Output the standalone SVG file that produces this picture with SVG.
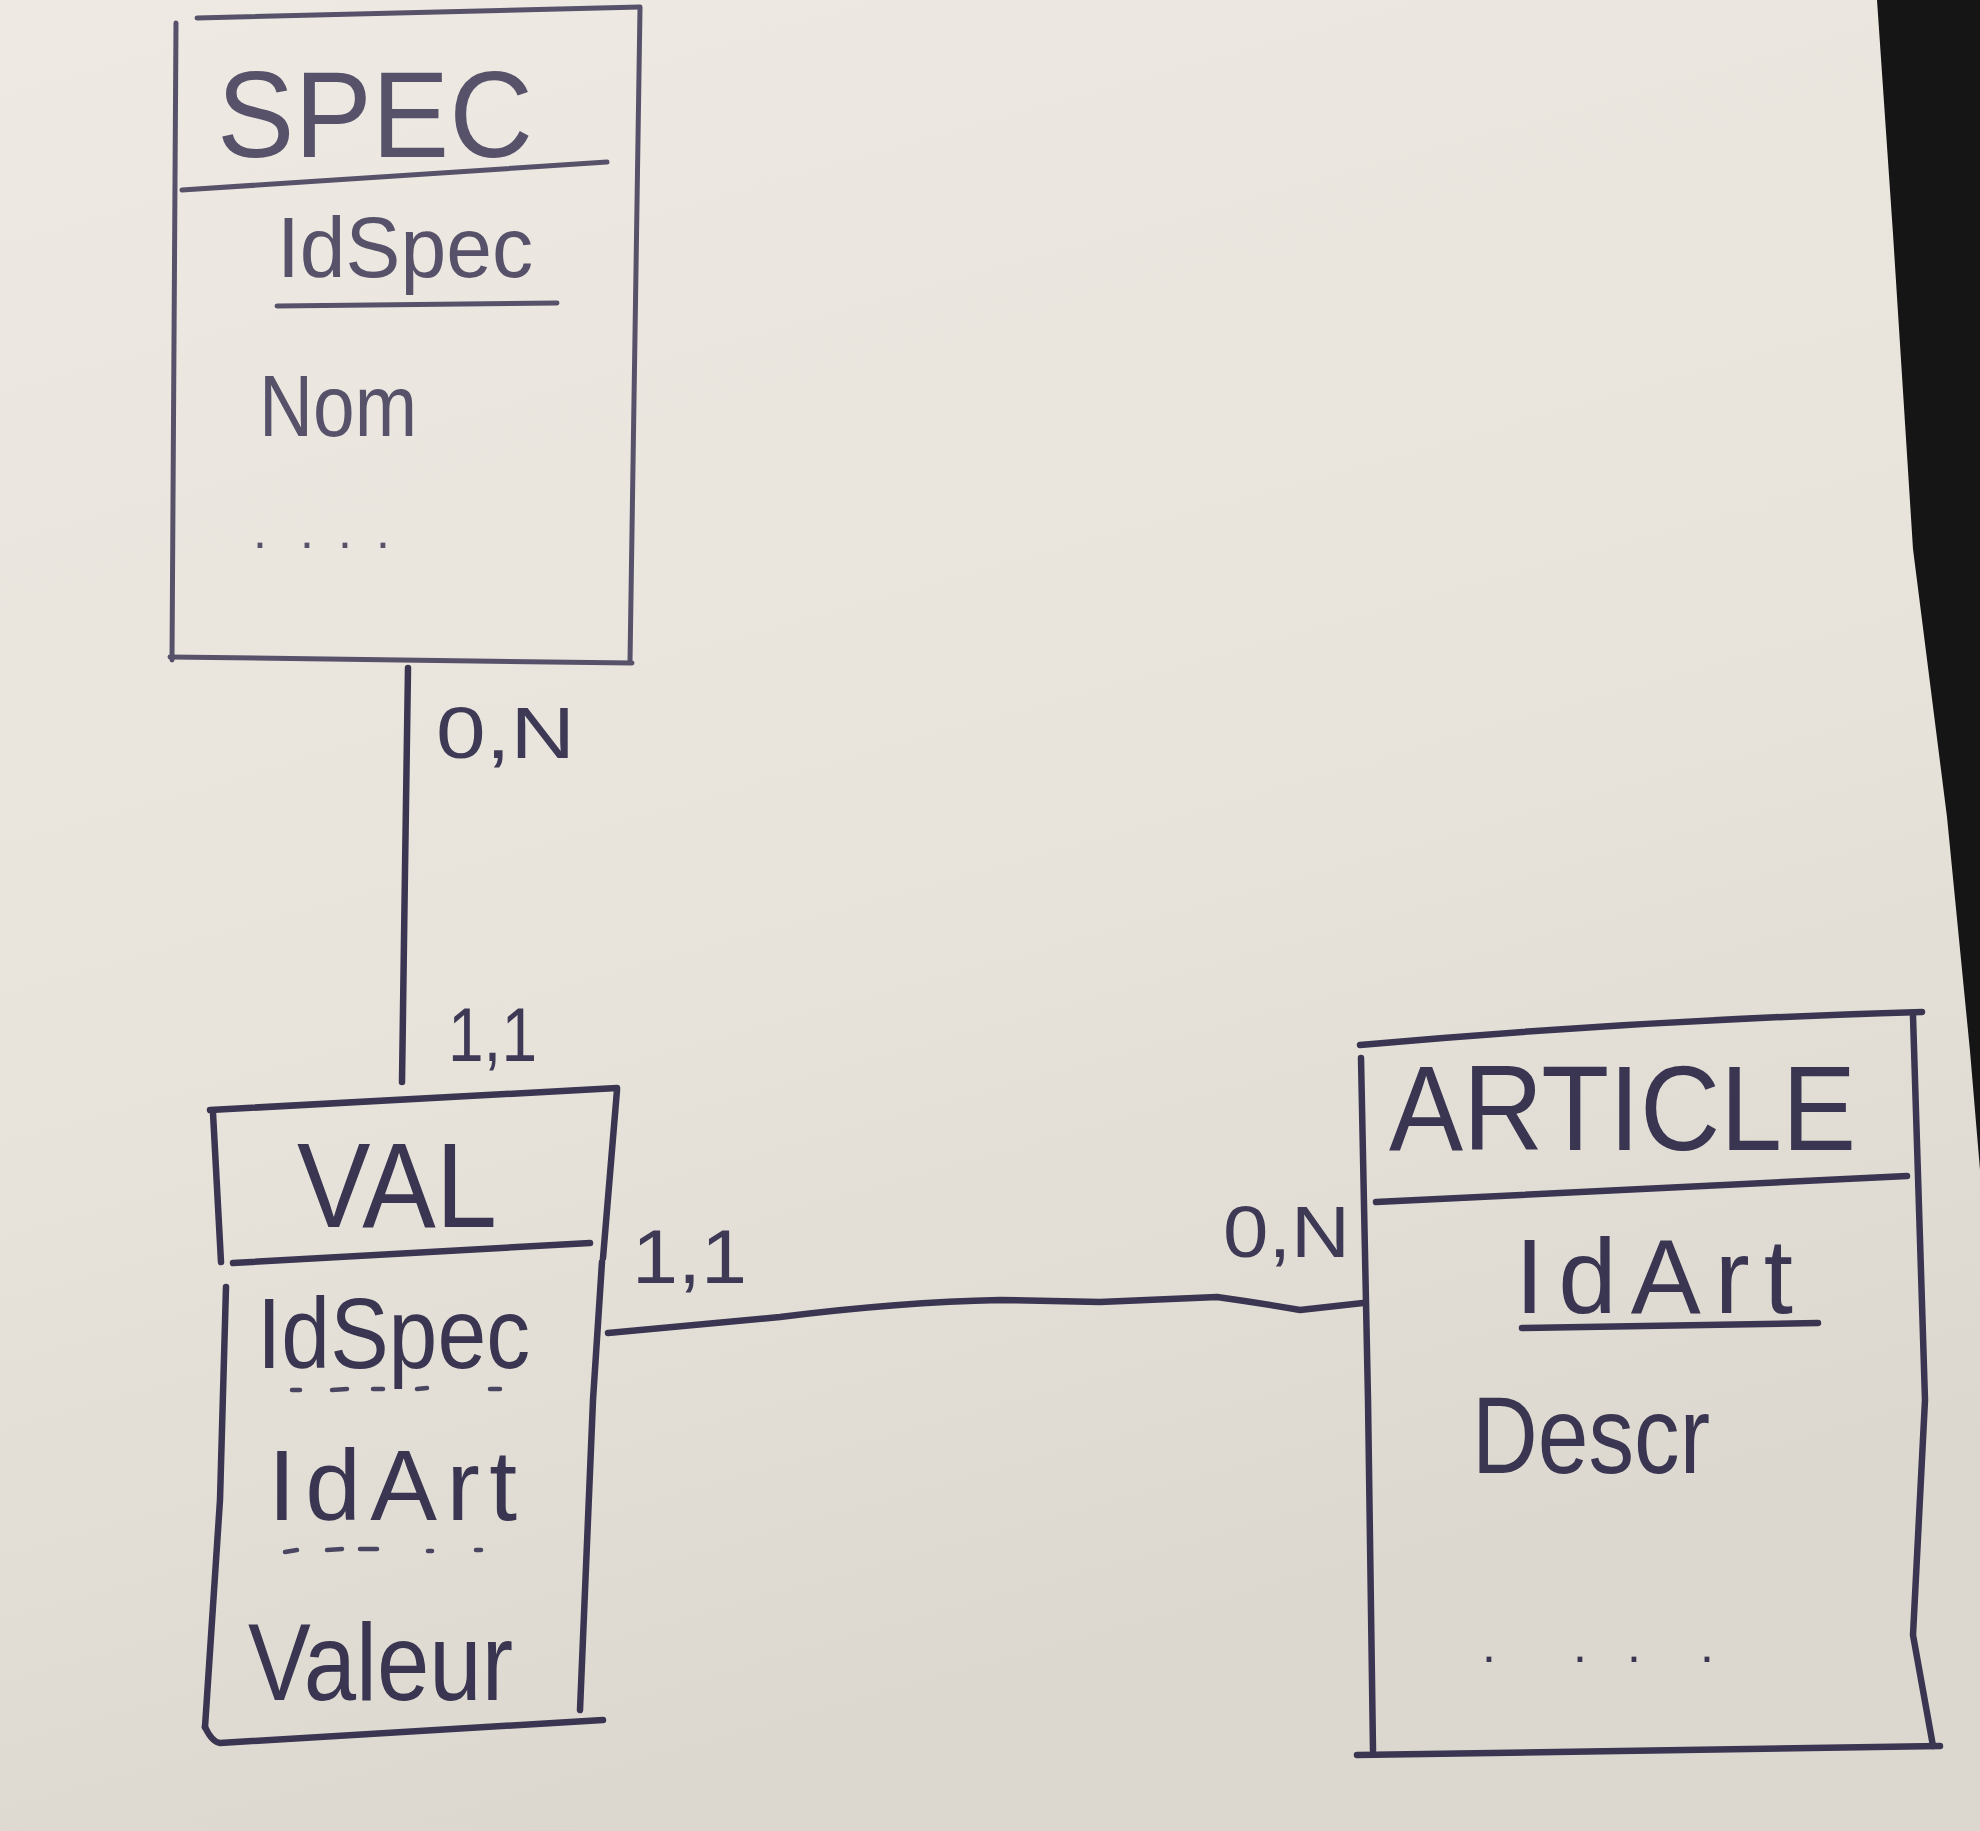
<svg xmlns="http://www.w3.org/2000/svg" width="1980" height="1831" viewBox="0 0 1980 1831">
<defs>
<linearGradient id="paper" x1="0" y1="0" x2="0.3" y2="1">
<stop offset="0" stop-color="#eeeae3"/>
<stop offset="0.6" stop-color="#e7e3db"/>
<stop offset="1" stop-color="#dcd8d0"/>
</linearGradient>
<style>
.ink{fill:none;stroke:#3a3550;stroke-width:6.5;stroke-linecap:round;stroke-linejoin:round}
.thin{stroke:#57526a;stroke-width:5}
.dash{fill:none;stroke:#4a4560;stroke-width:4.5;stroke-linecap:round}
.t{font-family:"Liberation Sans",Arial,sans-serif;fill:#3a3550}
.ts{fill:#57526a}
.lbl{font-family:"Liberation Sans",Arial,sans-serif;fill:#3e3954}
</style>
</defs>
<rect x="0" y="0" width="1980" height="1831" fill="url(#paper)"/>
<path d="M1877 0 L1893 234 L1913 549 L1947 817 L1970 1051 L1980 1170 L1980 0 Z" fill="#151515"/>

<g id="spec">
<path class="ink thin" d="M197 18 L640 7"/>
<path class="ink thin" d="M176 23 L172 660"/>
<path class="ink thin" d="M640 8 L630 662"/>
<path class="ink thin" d="M170 657 L632 663"/>
<path class="ink thin" d="M182 190 L607 162"/>
<text class="t ts" x="217" y="157" font-size="122" textLength="316" lengthAdjust="spacingAndGlyphs">SPEC</text>
<text class="t ts" x="277" y="277" font-size="86" textLength="256" lengthAdjust="spacingAndGlyphs">IdSpec</text>
<path class="ink thin" d="M277 306 L557 303"/>
<text class="t ts" x="259" y="436" font-size="88" textLength="158" lengthAdjust="spacingAndGlyphs">Nom</text>
<text class="t ts" x="253 300 338 376" y="548" font-size="50">....</text>
</g>

<g id="val">
<path class="ink" d="M210 1110 L617 1088"/>
<path class="ink" d="M213 1113 L221 1262 M226 1287 L220 1500 L205 1727"/>
<path class="ink" d="M617 1090 L603 1258 M602 1262 L593 1400 L580 1710"/>
<path class="ink" d="M205 1727 Q212 1742 220 1743 L603 1720"/>
<path class="ink" d="M233 1263 L590 1243"/>
<text class="t" x="297" y="1227" font-size="120" textLength="200" lengthAdjust="spacingAndGlyphs">VAL</text>
<text class="t" x="257" y="1368" font-size="100" textLength="273" lengthAdjust="spacingAndGlyphs">IdSpec</text>
<path class="dash" d="M292 1390 L300 1390 M332 1390 L347 1389 M373 1389 L383 1389 M417 1389 L427 1388 M490 1389 L500 1389"/>
<text class="t" x="268" y="1520" font-size="100" textLength="249" lengthAdjust="spacing">IdArt</text>
<path class="dash" d="M285 1552 L297 1550 M327 1550 L342 1549 M360 1549 L377 1549 M428 1551 L432 1551 M476 1550 L481 1550"/>
<text class="t" x="248" y="1700" font-size="110" textLength="265" lengthAdjust="spacingAndGlyphs">Valeur</text>
</g>

<g id="article">
<path class="ink" d="M1360 1045 Q1640 1020 1922 1012"/>
<path class="ink" d="M1361 1058 L1368 1400 L1373 1750"/>
<path class="ink" d="M1913 1016 L1925 1400 L1913 1635 L1933 1746"/>
<path class="ink" d="M1376 1202 L1907 1176"/>
<path class="ink" d="M1357 1755 L1940 1746"/>
<text class="t" x="1389" y="1150" font-size="120" textLength="467" lengthAdjust="spacingAndGlyphs">ARTICLE</text>
<text class="t" x="1515" y="1313" font-size="105" textLength="278" lengthAdjust="spacing">IdArt</text>
<path class="ink" d="M1522 1328 L1818 1323"/>
<text class="t" x="1472" y="1473" font-size="110" textLength="238" lengthAdjust="spacingAndGlyphs">Descr</text>
<text class="t" x="1482 1573 1627 1700" y="1662" font-size="50">....</text>
</g>

<g id="connectors">
<path class="ink" d="M408 668 L405 870 L402 1082"/>
<path class="ink" d="M608 1333 L780 1317 Q900 1302 1000 1300 L1100 1302 L1217 1297 Q1260 1303 1300 1310 L1363 1303"/>
<text class="lbl" x="436" y="758" font-size="72" textLength="139" lengthAdjust="spacingAndGlyphs">0,N</text>
<text class="lbl" x="448" y="1061" font-size="76" textLength="89" lengthAdjust="spacingAndGlyphs">1,1</text>
<text class="lbl" x="632" y="1283" font-size="76" textLength="115" lengthAdjust="spacingAndGlyphs">1,1</text>
<text class="lbl" x="1223" y="1257" font-size="72" textLength="127" lengthAdjust="spacingAndGlyphs">0,N</text>
</g>
</svg>
